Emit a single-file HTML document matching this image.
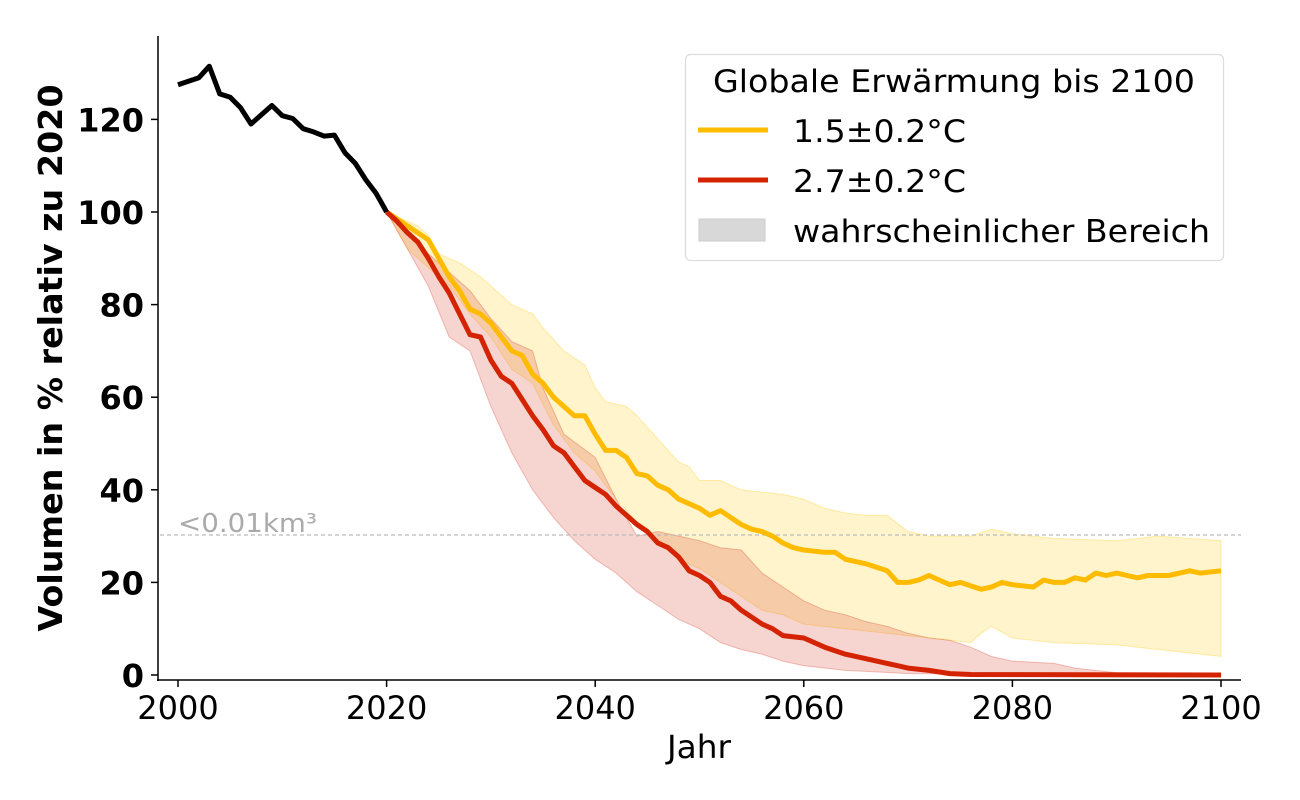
<!DOCTYPE html>
<html><head><meta charset="utf-8"><style>
html,body{margin:0;padding:0;background:#fff;}
svg{display:block;font-family:"DejaVu Sans","Liberation Sans",sans-serif;}
</style></head><body>
<svg id="s" width="1300" height="800" xmlns="http://www.w3.org/2000/svg">
<g id="fills"></g>
<line x1="160" y1="535" x2="1241" y2="535" stroke="#bbb" stroke-width="1.3" stroke-dasharray="4,3"/>
<text x="178" y="532" font-size="26" fill="#aaa" textLength="139" lengthAdjust="spacingAndGlyphs">&lt;0.01km³</text>
<g id="lines"></g>
<line x1="158" y1="36" x2="158" y2="681" stroke="#000" stroke-width="1.5"/>
<line x1="157" y1="680" x2="1241" y2="680" stroke="#000" stroke-width="1.5"/>
<g id="ticks" font-size="32"></g>
<text x="699" y="758" font-size="32" text-anchor="middle" textLength="64" lengthAdjust="spacingAndGlyphs">Jahr</text>
<text transform="translate(62,358) rotate(-90)" font-size="33" font-weight="bold" text-anchor="middle" textLength="547" lengthAdjust="spacingAndGlyphs">Volumen in % relativ zu 2020</text>
<rect x="685.5" y="54.5" width="538" height="206" rx="5" fill="#fff" fill-opacity="0.85" stroke="#ddd" stroke-width="1.3"/>
<text x="713" y="92" font-size="31" textLength="482" lengthAdjust="spacingAndGlyphs">Globale Erwärmung bis 2100</text>
<line x1="698" y1="130" x2="768" y2="130" stroke="#FFBB00" stroke-width="5"/>
<text x="793" y="142" font-size="31" textLength="173" lengthAdjust="spacingAndGlyphs">1.5±0.2°C</text>
<line x1="698" y1="180" x2="768" y2="180" stroke="#D42300" stroke-width="5"/>
<text x="793" y="192" font-size="31" textLength="173" lengthAdjust="spacingAndGlyphs">2.7±0.2°C</text>
<rect x="699" y="219" width="66" height="22" fill="#d8d8d8" stroke="#ccc"/>
<text x="793" y="242" font-size="31" textLength="417" lengthAdjust="spacingAndGlyphs">wahrscheinlicher Bereich</text>
</svg>
<script>
const X=y=>178+(y-2000)*10.43, Y=v=>675-v*4.63;
const P=a=>{let r=[];for(let i=0;i<a.length;i+=2)r.push(X(a[i]).toFixed(1)+','+Y(a[i+1]).toFixed(1));return r;};
const black=[2000,127.5,2002,129,2003,131.5,2004,125.5,2005,124.8,2006,122.5,2007,119,2008,121,2009,123,2010,120.8,2011,120.2,2012,118,2013,117.3,2014,116.4,2015,116.6,2016,112.8,2017,110.5,2018,107,2019,104,2020,100];
const yel=[2020,100,2022,97,2024,94,2025,90,2026,86,2027,83,2028,79,2029,78,2030,76,2031,73,2032,70,2033,69,2034,65,2035,63,2036,60,2037,58,2038,56,2039,56,2040,52,2041,48.5,2042,48.5,2043,47,2044,43.5,2045,43,2046,41,2047,40,2048,38,2049,37,2050,36,2051,34.5,2052,35.5,2053,34,2054,32.5,2055,31.5,2056,31,2057,30,2058,28.5,2059,27.5,2060,27,2062,26.5,2063,26.5,2064,25,2066,24,2068,22.5,2069,20,2070,20,2071,20.5,2072,21.5,2073,20.5,2074,19.5,2075,20,2077,18.5,2078,19,2079,20,2080,19.5,2082,19,2083,20.5,2084,20,2085,20,2086,21,2087,20.5,2088,22,2089,21.5,2090,22,2091,21.5,2092,21,2093,21.5,2095,21.5,2097,22.5,2098,22,2100,22.5];
const red=[2020,100,2021,98,2022,95.5,2023,93.5,2024,90,2025,86,2026,82.5,2027,78,2028,73.5,2029,73,2030,68,2031,64.5,2032,63,2033,59.5,2034,56,2035,53,2036,49.5,2037,48,2038,45,2039,42,2040,40.5,2041,39,2042,36.5,2043,34.5,2044,32.5,2045,31,2046,28.5,2047,27.5,2048,25.5,2049,22.5,2050,21.5,2051,20,2052,17,2053,16,2054,14,2055,12.5,2056,11,2057,10,2058,8.5,2060,8,2062,6,2064,4.5,2066,3.5,2068,2.5,2070,1.5,2072,1,2074,0.3,2076,0.1,2100,0];
const yu=[2020,100,2023,97,2024,95,2025,91,2027,89,2029,86,2031,82,2032,80,2034,78,2035,75,2037,70,2039,67,2040,62,2041,59,2043,58,2044,56,2046,51,2048,46,2049,45,2050,42,2052,42,2054,40,2058,39,2060,38,2062,36,2064,35,2066,34.5,2068,34.5,2070,31,2072,30,2076,30,2078,31.5,2080,30.5,2084,29.5,2090,29,2094,30,2100,29];
const yl=[2020,100,2022,92,2024,88,2026,84,2028,78,2030,73,2032,66,2034,63,2036,54,2038,48,2040,44,2042,38,2044,33,2046,29,2048,25,2050,23,2052,20,2054,17,2056,14,2058,13,2060,11,2064,10,2068,9,2072,8,2074,7.5,2076,7,2077,9,2078,10.5,2080,8,2084,7,2090,6.5,2096,5,2100,4];
const ru=[2020,100,2024,91,2026,87,2028,83,2030,77,2032,72,2034,70,2035,62,2037,52,2040,47,2042,38,2044,30,2046,31,2048,30,2050,29,2052,27.5,2054,27,2056,22,2058,19,2060,16,2062,14,2064,13,2066,11.5,2068,10.5,2070,9,2072,8,2074,7.5,2076,6,2078,4,2080,3,2084,2.5,2086,1.5,2090,0.5,2100,0.3];
const rl=[2020,100,2022,92,2024,84,2026,73,2028,70,2030,58,2032,48,2034,40,2036,34,2038,29,2040,25,2042,22,2044,18,2046,15,2048,12,2050,10,2052,7,2054,5.5,2056,4.5,2058,3,2060,2,2064,1,2070,0.3,2100,0];
const band=(u,l,c,s)=>`<polygon points="${P(u).concat(P(l).reverse()).join(' ')}" fill="${c}" stroke="${s}" stroke-width="1"/>`;
document.getElementById('fills').innerHTML=band(yu,yl,'rgba(255,200,0,0.2)','rgba(255,200,0,0.3)')+band(ru,rl,'rgba(214,60,40,0.22)','rgba(214,60,40,0.3)');
const line=(a,c)=>`<polyline points="${P(a).join(' ')}" fill="none" stroke="${c}" stroke-width="5" stroke-linejoin="round"/>`;
document.getElementById('lines').innerHTML=line(yel,'#FFBB00')+line(red,'#D42300')+line(black,'#000');
let t='';
for(let v=0;v<=120;v+=20){const y=Y(v);t+=`<line x1="151" y1="${y}" x2="158" y2="${y}" stroke="#000" stroke-width="1.5"/><text x="144" y="${y+12}" text-anchor="end" font-weight="bold">${v}</text>`;}
for(let x=2000;x<=2100;x+=20){const px=X(x);t+=`<line x1="${px}" y1="680" x2="${px}" y2="687" stroke="#000" stroke-width="1.5"/><text x="${px}" y="719" text-anchor="middle">${x}</text>`;}
document.getElementById('ticks').innerHTML=t;
</script>
</body></html>
